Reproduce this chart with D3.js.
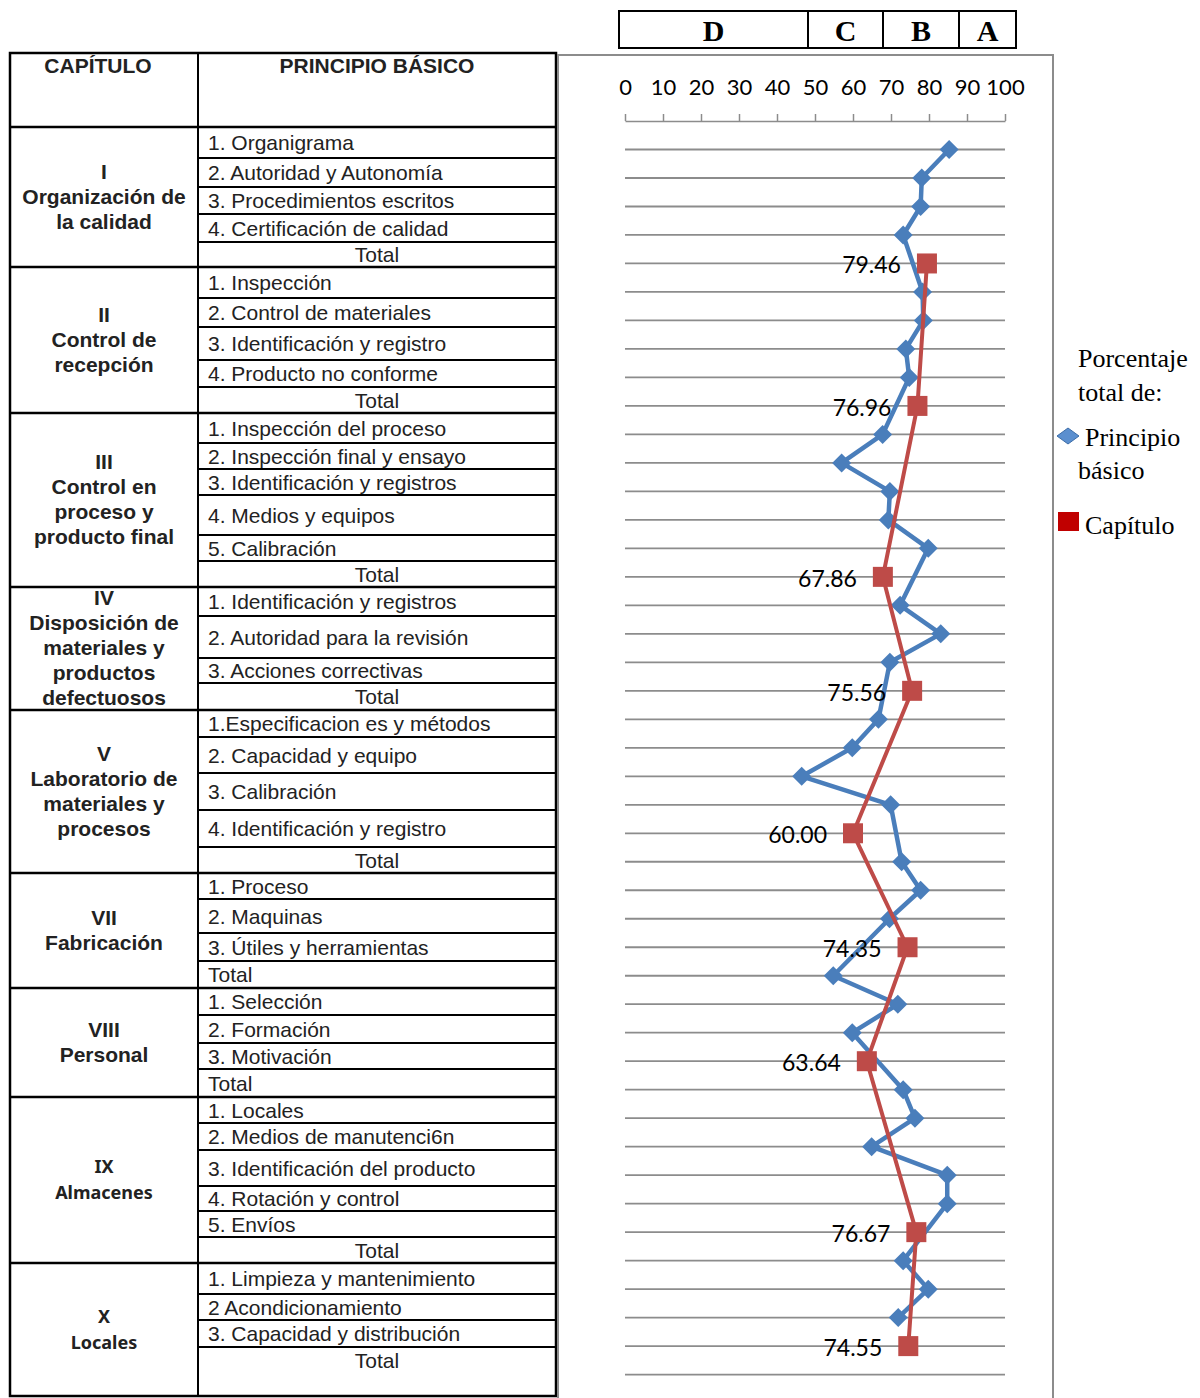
<!DOCTYPE html>
<html>
<head>
<meta charset="utf-8">
<script src="https://cdn.jsdelivr.net/npm/d3@7/dist/d3.min.js"></script>
<style>
  html, body { margin: 0; padding: 0; background: #fff; }
  svg { display: block; }
</style>
</head>
<body>
<svg id="chart" width="1200" height="1398"></svg>
<script>
// ---------------- DATA ----------------
const chapterIds = ["I", "II", "III", "IV", "V", "VII", "VIII", "IX", "X"];
const chapterNames = [
  ["I", "Organización de", "la calidad"],
  ["II", "Control de", "recepción"],
  ["III", "Control en", "proceso y", "producto final"],
  ["IV", "Disposición de", "materiales y", "productos", "defectuosos"],
  ["V", "Laboratorio de", "materiales y", "procesos"],
  ["VII", "Fabricación"],
  ["VIII", "Personal"],
  ["IX", "Almacenes"],
  ["X", "Locales"]
];
const principles = [
  ["1. Organigrama", "2. Autoridad y Autonomía", "3. Procedimientos escritos", "4. Certificación de calidad"],
  ["1. Inspección", "2. Control de materiales", "3. Identificación y registro", "4. Producto no conforme"],
  ["1. Inspección del proceso", "2. Inspección final y ensayo", "3. Identificación y registros", "4. Medios y equipos", "5. Calibración"],
  ["1. Identificación y registros", "2. Autoridad para la revisión", "3. Acciones correctivas"],
  ["1.Especificacion es y métodos", "2. Capacidad y equipo", "3. Calibración", "4. Identificación y registro"],
  ["1. Proceso", "2. Maquinas", "3. Útiles y herramientas"],
  ["1. Selección", "2. Formación", "3. Motivación"],
  ["1. Locales", "2. Medios de manutenci6n", "3. Identificación del producto", "4. Rotación y control", "5. Envíos"],
  ["1. Limpieza y mantenimiento", "2 Acondicionamiento", "3. Capacidad y distribución"]
];
// Percentage per basic principle (chart rows, chapter by chapter)
const principioValues = [
  [85.3, 78.1, 77.8, 73.2],
  [78.3, 78.5, 73.9, 74.8],
  [67.8, 57.0, 69.7, 69.3, 79.8],
  [72.4, 83.1, 69.7],
  [66.7, 59.8, 46.5, 69.9],
  [72.8, 77.8, 69.6],
  [54.8, 71.8, 59.8],
  [73.2, 76.3, 64.9, 84.8, 84.8],
  [73.2, 79.8, 71.9]
];
// Percentage per chapter (Total rows)
const capituloValues = [79.46, 76.96, 67.86, 75.56, 60.00, 74.35, 63.64, 76.67, 74.55];
const xTicks = [0, 10, 20, 30, 40, 50, 60, 70, 80, 90, 100];
const gradeLabels = ["D", "C", "B", "A"];
const legendTitle = ["Porcentaje", "total de:"];
const legendSeries = [["Principio", "básico"], ["Capítulo"]];

// ---------------- LAYOUT ----------------
const tableLeft = 10, colDiv = 198, tableRight = 556, tableTop = 53, headerBottom = 127, tableBottom = 1396;
const rowHeights = [
  [31, 29, 27, 28, 25],
  [31, 29, 33, 27, 26],
  [30, 26, 26, 40, 26, 26],
  [29, 42, 25, 27],
  [27, 36, 37, 37, 26],
  [26, 34, 28, 27],
  [27, 28, 26, 28],
  [26, 27, 36, 25, 26, 26],
  [31, 26, 27, 26]
];
const totalLeftAligned = [false, false, false, false, false, true, true, false, false];
const chapterFont = ["sans", "sans", "sans", "sans", "sans", "sans", "sans", "alt", "alt"];

// Build the row list (43 chart rows)
const rows = [];
chapterIds.forEach((cid, ci) => {
  principles[ci].forEach((p, pi) => rows.push({chapter: ci, label: p, principio: principioValues[ci][pi], capitulo: null, total: false}));
  rows.push({chapter: ci, label: "Total", principio: null, capitulo: capituloValues[ci], total: true});
});

const svg = d3.select("#chart");

// ---------------- TABLE ----------------
const tbl = svg.append("g");
const itemFont = "'Liberation Sans', Arial, sans-serif";
const txtColor = "#222";

let yCur = headerBottom;
let rIdx = 0;
chapterIds.forEach((cid, ci) => {
  const top = yCur;
  rowHeights[ci].forEach((h, k) => {
    const row = rows[rIdx++];
    const y0 = yCur, y1 = yCur + h;
    if (k < rowHeights[ci].length - 1) {
      tbl.append("line").attr("x1", colDiv).attr("x2", tableRight).attr("y1", y1).attr("y2", y1)
        .attr("stroke", "#000").attr("stroke-width", 2);
    }
    const leftAlign = !row.total || totalLeftAligned[ci];
    tbl.append("text")
      .attr("x", leftAlign ? colDiv + 10 : (colDiv + tableRight) / 2)
      .attr("y", (y0 + y1) / 2 + 0)
      .attr("dominant-baseline", "central")
      .attr("text-anchor", leftAlign ? "start" : "middle")
      .attr("font-family", itemFont).attr("font-size", 21).attr("fill", txtColor)
      .text(row.label);
    yCur = y1;
  });
  let bottom = yCur;
  if (ci === chapterIds.length - 1) bottom = tableBottom;
  if (ci < chapterIds.length - 1) {
    tbl.append("line").attr("x1", tableLeft).attr("x2", tableRight).attr("y1", bottom).attr("y2", bottom)
      .attr("stroke", "#000").attr("stroke-width", 2.5);
  }
  // chapter label
  const lines = chapterNames[ci];
  const alt = chapterFont[ci] === "alt";
  const lh = alt ? 26 : 25;
  const mid = (top + bottom) / 2;
  lines.forEach((t, li) => {
    tbl.append("text")
      .attr("x", (tableLeft + colDiv) / 2)
      .attr("y", mid + (li - (lines.length - 1) / 2) * lh - 1)
      .attr("dominant-baseline", "central").attr("text-anchor", "middle")
      .attr("font-family", alt ? "'Noto Sans', sans-serif" : itemFont)
      .attr("font-size", alt ? 18 : 21)
      .attr("font-weight", "bold").attr("fill", txtColor)
      .text(t);
  });
});
// header
tbl.append("line").attr("x1", tableLeft).attr("x2", tableRight).attr("y1", headerBottom).attr("y2", headerBottom)
  .attr("stroke", "#000").attr("stroke-width", 2.5);
tbl.append("text").attr("x", 98).attr("y", 65).attr("dominant-baseline", "central").attr("text-anchor", "middle")
  .attr("font-family", itemFont).attr("font-size", 21).attr("font-weight", "bold").attr("fill", txtColor).text("CAPÍTULO");
tbl.append("text").attr("x", (colDiv + tableRight) / 2).attr("y", 65).attr("dominant-baseline", "central").attr("text-anchor", "middle")
  .attr("font-family", itemFont).attr("font-size", 21).attr("font-weight", "bold").attr("fill", txtColor).text("PRINCIPIO BÁSICO");
// column divider & outer border
tbl.append("line").attr("x1", colDiv).attr("x2", colDiv).attr("y1", tableTop).attr("y2", tableBottom)
  .attr("stroke", "#000").attr("stroke-width", 2);
tbl.append("rect").attr("x", tableLeft).attr("y", tableTop).attr("width", tableRight - tableLeft).attr("height", tableBottom - tableTop)
  .attr("fill", "none").attr("stroke", "#000").attr("stroke-width", 2.5);

// ---------------- CHART ----------------
const x = d3.scaleLinear().domain([0, 100]).range([625, 1005]);
const y = d3.scaleLinear().domain([0, rows.length]).range([149.5, 1374.6]);

// chart area frame
svg.append("path").attr("d", "M558,1398V55H1053V1398")
  .attr("fill", "none").attr("stroke", "#8c8c8c").attr("stroke-width", 2);

// grade box
const gradeEdges = [619, 808, 883, 959, 1016];
const gb = svg.append("g");
gb.append("rect").attr("x", gradeEdges[0]).attr("y", 11).attr("width", gradeEdges[4] - gradeEdges[0]).attr("height", 37)
  .attr("fill", "none").attr("stroke", "#000").attr("stroke-width", 2);
gradeLabels.forEach((g, i) => {
  if (i > 0) gb.append("line").attr("x1", gradeEdges[i]).attr("x2", gradeEdges[i]).attr("y1", 11).attr("y2", 48)
    .attr("stroke", "#000").attr("stroke-width", 2);
  gb.append("text").attr("x", (gradeEdges[i] + gradeEdges[i + 1]) / 2).attr("y", 41)
    .attr("text-anchor", "middle").attr("font-family", "'Liberation Serif', 'Times New Roman', serif")
    .attr("font-size", 30).attr("font-weight", "bold").attr("fill", "#000").text(g);
});

// gridlines
svg.append("g").selectAll("line").data(d3.range(rows.length + 1)).join("line")
  .attr("x1", x(0)).attr("x2", x(100)).attr("y1", d => y(d)).attr("y2", d => y(d))
  .attr("stroke", "#8c8c8c").attr("stroke-width", 1.8);

// axis
const axis = svg.append("g").attr("transform", "translate(0,121)")
  .call(d3.axisTop(x).tickValues(xTicks).tickSizeInner(7).tickSizeOuter(0).tickPadding(19));
axis.selectAll("path, line").attr("stroke", "#8c8c8c").attr("stroke-width", 1.5);
axis.selectAll("text").attr("font-family", "Lato, sans-serif").attr("font-size", 22).attr("fill", "#000");

// blue line (principio) - connect across gaps
const blue = "#4A7EBB", red = "#BE4B48";
const bluePts = rows.map((r, i) => ({i, v: r.principio})).filter(d => d.v != null);
const redPts = rows.map((r, i) => ({i, v: r.capitulo})).filter(d => d.v != null);
const line = d3.line().x(d => x(d.v)).y(d => y(d.i));

svg.append("path").datum(bluePts).attr("d", line).attr("fill", "none")
  .attr("stroke", blue).attr("stroke-width", 4.5).attr("stroke-linejoin", "round");
svg.append("g").selectAll("path").data(bluePts).join("path")
  .attr("d", d => { const cx = x(d.v), cy = y(d.i), r = 9.5; return `M${cx},${cy - r}L${cx + r},${cy}L${cx},${cy + r}L${cx - r},${cy}Z`; })
  .attr("fill", blue);

svg.append("path").datum(redPts).attr("d", line).attr("fill", "none")
  .attr("stroke", red).attr("stroke-width", 4).attr("stroke-linejoin", "round");
svg.append("g").selectAll("rect").data(redPts).join("rect")
  .attr("x", d => x(d.v) - 10).attr("y", d => y(d.i) - 10).attr("width", 20).attr("height", 20)
  .attr("fill", red);
svg.append("g").selectAll("text").data(redPts).join("text")
  .attr("x", d => x(d.v) - 26).attr("y", d => y(d.i) + 1)
  .attr("text-anchor", "end").attr("dominant-baseline", "central")
  .attr("font-family", "Lato, sans-serif").attr("font-size", 23).attr("fill", "#000")
  .text(d => d.v.toFixed(2));

// ---------------- LEGEND ----------------
const lg = svg.append("g").attr("font-family", "'Liberation Serif', 'Times New Roman', serif").attr("font-size", 26).attr("fill", "#000");
lg.append("text").attr("x", 1078).attr("y", 367).text(legendTitle[0]);
lg.append("text").attr("x", 1078).attr("y", 401).text(legendTitle[1]);
lg.append("path").attr("d", "M1068,428L1079,436L1068,444L1057,436Z").attr("fill", "#5B8FCF").attr("stroke", "#3C6DA8").attr("stroke-width", 1);
lg.append("text").attr("x", 1085).attr("y", 446).text(legendSeries[0][0]);
lg.append("text").attr("x", 1078).attr("y", 479).text(legendSeries[0][1]);
lg.append("rect").attr("x", 1058).attr("y", 512).attr("width", 21).attr("height", 19).attr("fill", "#C00000");
lg.append("text").attr("x", 1085).attr("y", 534).text(legendSeries[1][0]);
</script>
</body>
</html>
